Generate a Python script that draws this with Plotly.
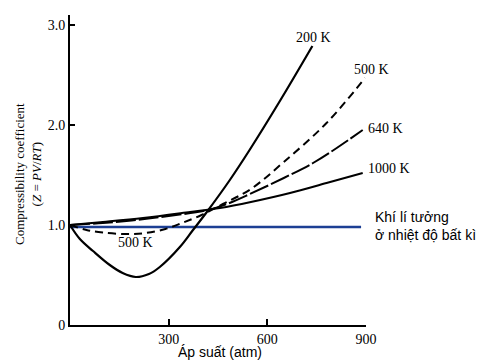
import plotly.graph_objects as go

# Data
p_200 = [0, 30, 70, 121, 160, 200, 240, 273, 334, 374, 416, 486, 546, 640, 737]
z_200 = [1.0, 0.86, 0.74, 0.60, 0.52, 0.48, 0.51, 0.58, 0.78, 0.95, 1.13, 1.45, 1.75, 2.25, 2.79]

p_500 = [0, 50, 100, 170, 230, 290, 340, 400, 465, 550, 650, 780, 897]
z_500 = [1.0, 0.95, 0.925, 0.91, 0.92, 0.96, 1.02, 1.10, 1.21, 1.36, 1.63, 2.02, 2.47]

p_640 = [0, 100, 200, 300, 420, 477, 547, 650, 739, 811, 890]
z_640 = [1.0, 1.02, 1.05, 1.09, 1.15, 1.21, 1.31, 1.47, 1.62, 1.77, 1.95]

p_1000 = [0, 100, 222, 365, 456, 550, 669, 780, 890]
z_1000 = [1.0, 1.03, 1.07, 1.13, 1.17, 1.23, 1.32, 1.42, 1.52]

p_ideal = [0, 885]
z_ideal = [0.98, 0.98]

x_ticks = [300, 600, 900]
x_ticklabels = ["300", "600", "900"]
y_ticks = [0, 1, 2, 3]
y_ticklabels = ["0", "1.0", "2.0", "3.0"]

serif = "Liberation Serif, Times New Roman, serif"
sans = "Liberation Sans, Arial, sans-serif"

fig = go.Figure()
fig.add_trace(go.Scatter(x=p_ideal, y=z_ideal, mode="lines",
                         line=dict(color="#1c3f94", width=2.5)))
fig.add_trace(go.Scatter(x=p_1000, y=z_1000, mode="lines", line_shape="spline",
                         line=dict(color="black", width=2)))
fig.add_trace(go.Scatter(x=p_640, y=z_640, mode="lines", line_shape="spline",
                         line=dict(color="black", width=2, dash="20px,3px")))
fig.add_trace(go.Scatter(x=p_500, y=z_500, mode="lines", line_shape="spline",
                         line=dict(color="black", width=2, dash="8px,5px")))
fig.add_trace(go.Scatter(x=p_200, y=z_200, mode="lines", line_shape="spline",
                         line=dict(color="black", width=2.2)))

labels = [
    (0.821, 0.926, "200 K", "center"),
    (1.020, 0.823, "500 K", "center"),
    (1.000, 0.635, "640 K", "left"),
    (1.000, 0.506, "1000 K", "left"),
    (0.220, 0.265, "500 K", "center"),
]
for x, y, t, xa in labels:
    fig.add_annotation(x=x, y=y, xref="paper", yref="paper", text=t, showarrow=False,
                       xanchor=xa, yanchor="middle",
                       font=dict(family=serif, size=14, color="black"))

fig.add_annotation(x=1.024, y=0.319, xref="paper", yref="paper",
                   text="Khí lí tưởng<br>ở nhiệt độ bất kì", showarrow=False,
                   xanchor="left", yanchor="middle", align="left",
                   font=dict(family=sans, size=14, color="black"))

fig.add_annotation(x=0.507, y=-0.087, xref="paper", yref="paper",
                   text="Áp suất (atm)", showarrow=False,
                   xanchor="center", yanchor="middle",
                   font=dict(family=sans, size=14, color="black"))

fig.add_annotation(x=-0.142, y=0.487, xref="paper", yref="paper",
                   text="Compressibility coefficient<br>(<i>Z</i> = <i>PV</i>/<i>RT</i>)",
                   showarrow=False, textangle=-90,
                   xanchor="center", yanchor="middle",
                   font=dict(family=serif, size=13, color="black"))

fig.update_layout(
    width=494, height=355,
    margin=dict(l=62, r=136, t=7, b=38),
    paper_bgcolor="white", plot_bgcolor="white",
    showlegend=False,
    xaxis=dict(range=[0, 900], showline=True, linecolor="black", linewidth=2,
               showgrid=False, zeroline=False, ticks="inside", ticklen=6,
               tickwidth=1.5, tickcolor="black", tickvals=x_ticks,
               ticktext=x_ticklabels,
               tickfont=dict(family=serif, size=14, color="black")),
    yaxis=dict(range=[0, 3.1], showline=True, linecolor="black", linewidth=2,
               showgrid=False, zeroline=False, ticks="inside", ticklen=5,
               tickwidth=1.5, tickcolor="black", tickvals=y_ticks,
               ticktext=y_ticklabels,
               tickfont=dict(family=serif, size=14, color="black")),
)

fig.write_html("out.html")
